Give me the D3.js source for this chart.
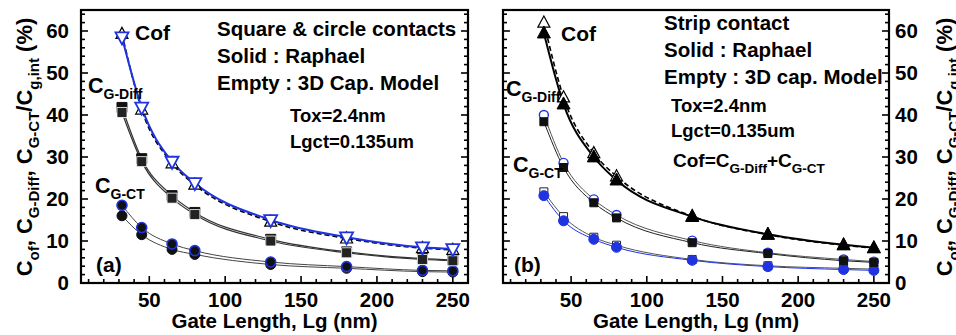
<!DOCTYPE html>
<html>
<head>
<meta charset="utf-8">
<script src="https://cdn.jsdelivr.net/npm/d3@7"></script>
<style>
  body { margin: 0; background: #fff; }
  svg { display: block; font-family: "Liberation Sans", Arial, sans-serif; font-weight: bold; }
</style>
</head>
<body>
<svg id="chart" width="956" height="335"></svg>
<script>
// gate length (nm)
var gateLength = [32, 45, 65, 80, 130, 180, 230, 250];

// panel (a): square & circle contacts
var cofRaphaelA   = [58.5, 41.8, 28.9, 23.8, 15.0, 10.9, 8.5, 8.1];
var cofModelA     = [59.3, 41.3, 28.5, 23.4, 14.6, 10.6, 8.3, 7.9];
var gDiffRaphaelA = [41.8, 29.6, 20.8, 16.8, 10.4, 7.4, 5.8, 5.5];
var gDiffModelA   = [40.6, 28.9, 20.2, 16.3, 10.0, 7.2, 5.6, 5.3];
var gCtModelA     = [18.5, 13.2, 9.3, 7.7, 5.0, 3.9, 3.0, 2.9];
var gCtRaphaelA   = [16.0, 11.5, 8.0, 6.8, 4.4, 3.5, 2.7, 2.6];

// panel (b): strip contact
var cofRaphaelB   = [59.5, 42.6, 30.0, 24.5, 15.8, 11.6, 9.1, 8.4];
var cofModelB     = [62.0, 44.2, 30.9, 25.4, 15.9, 11.5, 9.0, 8.3];
var gDiffModelB   = [40.0, 28.6, 19.9, 16.2, 10.1, 7.2, 5.6, 5.1];
var gDiffRaphaelB = [38.4, 27.5, 19.1, 15.5, 9.6, 7.0, 5.3, 4.9];
var gCtModelB     = [21.7, 15.8, 10.9, 9.0, 5.6, 4.1, 3.5, 3.3];
var gCtRaphaelB   = [20.8, 14.8, 10.4, 8.5, 5.4, 3.9, 3.2, 3.0];

var xTicks = [50, 100, 150, 200, 250];
var yTicks = [0, 10, 20, 30, 40, 50, 60];

var BLUE = '#1f33e0';

var svg = d3.select('#chart');

function markerPath( type, s ){
    var h = s / 2;
    if ( type === 'triUp' ){
        return 'M0,' + (-h * 1.1) + 'L' + h + ',' + (h * 0.75) + 'L' + (-h) + ',' + (h * 0.75) + 'Z';
    }
    if ( type === 'triDown' ){
        return 'M0,' + (h * 1.1) + 'L' + h + ',' + (-h * 0.75) + 'L' + (-h) + ',' + (-h * 0.75) + 'Z';
    }
    if ( type === 'square' ){
        return 'M' + (-h) + ',' + (-h) + 'h' + s + 'v' + s + 'h' + (-s) + 'Z';
    }
    return d3.symbol().type( d3.symbolCircle ).size( Math.PI * h * h )();
}

// text with subscripts: parts = [[text, isSub], ...]
function richText( g, parts, size, subSize ){
    var t = g.append('text').attr('font-size', size);
    var inSub = false;
    parts.forEach(function( p ){
        var ts = t.append('tspan').text( p[0] );
        if ( p[1] && !inSub ){
            ts.attr('font-size', subSize).attr('dy', size * 0.3);
            inSub = true;
        } else if ( !p[1] && inSub ){
            ts.attr('dy', -size * 0.3);
            inSub = false;
        }
    });
    return t;
}

function drawPanel( cfg ){
    var x = d3.scaleLinear().domain([5, 260]).range([cfg.left, cfg.right]),
        y = d3.scaleLinear().domain([0, 65]).range([283, 10]),
        g = svg.append('g'),
        line = d3.line()
            .x(function( d, i ){ return x( gateLength[i] ); })
            .y(function( d ){ return y( d ); })
            .curve( d3.curveMonotoneX );

    // minor ticks
    var xMinor = d3.range(10, 260, 10),
        yMinor = d3.range(2, 65, 2);

    g.selectAll('.xminor').data( xMinor ).enter().append('line')
        .attr('x1', function( d ){ return x( d ); })
        .attr('x2', function( d ){ return x( d ); })
        .attr('y1', 283).attr('y2', function( d ){ return d % 50 === 0 ? 276 : 279; })
        .attr('stroke', '#000').attr('stroke-width', 1.6);

    [cfg.left, cfg.right].forEach(function( ax, k ){
        var dir = k === 0 ? 1 : -1;
        g.selectAll('.yminor' + k).data( yMinor ).enter().append('line')
            .attr('x1', ax)
            .attr('x2', function( d ){ return ax + dir * ( d % 10 === 0 ? 7 : 4 ); })
            .attr('y1', function( d ){ return y( d ); })
            .attr('y2', function( d ){ return y( d ); })
            .attr('stroke', '#000').attr('stroke-width', 1.6);
    });

    g.append('rect')
        .attr('x', cfg.left).attr('y', 10)
        .attr('width', cfg.right - cfg.left).attr('height', 273)
        .attr('fill', 'none').attr('stroke', '#000').attr('stroke-width', 2.2);

    // tick labels
    g.selectAll('.xl').data( xTicks ).enter().append('text')
        .attr('x', function( d ){ return x( d ); })
        .attr('y', 307)
        .attr('text-anchor', 'middle')
        .attr('font-size', 20.5)
        .text(function( d ){ return d; });

    g.selectAll('.yl').data( yTicks ).enter().append('text')
        .attr('x', cfg.yLabelX)
        .attr('y', function( d ){ return y( d ) + 7; })
        .attr('text-anchor', cfg.yLabelAnchor)
        .attr('font-size', 20.5)
        .text(function( d ){ return d; });

    g.append('text')
        .attr('x', ( cfg.left + cfg.right ) / 2)
        .attr('y', 328)
        .attr('text-anchor', 'middle')
        .attr('font-size', 20.5)
        .text('Gate Length, Lg (nm)');

    // the right-hand title runs off the page edge, as in the source figure
    var title = richText( g.append('g').attr('transform', 'translate(' + cfg.titleX + ',147) rotate(-90)'),
        [['C', 0], ['of', 1], [', C', 0], ['G-Diff', 1], [', C', 0], ['G-CT', 1], ['/C', 0], ['g,int', 1], [' (%)', 0]],
        22, 15 );
    title.attr('text-anchor', 'middle');

    // series
    cfg.series.forEach(function( s ){
        g.append('path')
            .attr('d', line( s.values ))
            .attr('fill', 'none')
            .attr('stroke', s.lineColor)
            .attr('stroke-width', s.lineWidth)
            .attr('stroke-dasharray', s.dash || null);
    });
    cfg.series.forEach(function( s ){
        g.selectAll(null).data( s.values ).enter().append('path')
            .attr('transform', function( d, i ){ return 'translate(' + x( gateLength[i] ) + ',' + y( d ) + ')'; })
            .attr('d', markerPath( s.marker, s.size ))
            .attr('fill', s.fill)
            .attr('stroke', s.stroke)
            .attr('stroke-width', s.strokeWidth);
    });

    // annotations
    cfg.notes.forEach(function( n ){
        richText( g.append('g').attr('transform', 'translate(' + n.x + ',' + n.y + ')'), n.parts, n.size, n.sub );
    });
}

drawPanel({
    left : 81, right : 468,
    yLabelX : 69, yLabelAnchor : 'end',
    titleX : 32,
    series : [
        { values : gCtRaphaelA, lineColor : '#444', lineWidth : 1, marker : 'circle', size : 10, fill : '#111', stroke : '#111', strokeWidth : 1 },
        { values : gCtModelA, lineColor : '#444', lineWidth : 1, marker : 'circle', size : 10, fill : '#111', stroke : BLUE, strokeWidth : 1.6 },
        { values : gDiffRaphaelA, lineColor : '#333', lineWidth : 1.2, marker : 'square', size : 10, fill : '#111', stroke : '#111', strokeWidth : 1 },
        { values : gDiffModelA, lineColor : '#333', lineWidth : 1.2, marker : 'square', size : 10, fill : '#222', stroke : '#fff', strokeWidth : 0.8 },
        { values : cofModelA, lineColor : '#000', lineWidth : 1.6, dash : '5,3', marker : 'triUp', size : 12, fill : '#fff', stroke : '#000', strokeWidth : 1.2 },
        { values : cofRaphaelA, lineColor : BLUE, lineWidth : 2, marker : 'triDown', size : 13, fill : '#fff', stroke : BLUE, strokeWidth : 1.8 }
    ],
    notes : [
        { x : 135, y : 40, size : 21, sub : 14, parts : [['Cof', 0]] },
        { x : 217, y : 36, size : 20.5, sub : 13, parts : [['Square & circle contacts', 0]] },
        { x : 217, y : 63, size : 20.5, sub : 13, parts : [['Solid : Raphael', 0]] },
        { x : 217, y : 90, size : 20.5, sub : 13, parts : [['Empty : 3D Cap. Model', 0]] },
        { x : 290, y : 122, size : 18.5, sub : 12, parts : [['Tox=2.4nm', 0]] },
        { x : 290, y : 148, size : 18.5, sub : 12, parts : [['Lgct=0.135um', 0]] },
        { x : 88, y : 93, size : 21.5, sub : 14, parts : [['C', 0], ['G-Diff', 1]] },
        { x : 95, y : 193, size : 21.5, sub : 14, parts : [['C', 0], ['G-CT', 1]] },
        { x : 96, y : 272, size : 21, sub : 13, parts : [['(a)', 0]] }
    ]
});

drawPanel({
    left : 503, right : 889,
    yLabelX : 895, yLabelAnchor : 'start',
    titleX : 952,
    series : [
        { values : gCtModelB, lineColor : '#555', lineWidth : 1, marker : 'square', size : 8, fill : '#fff', stroke : '#222', strokeWidth : 1 },
        { values : gCtRaphaelB, lineColor : BLUE, lineWidth : 1, marker : 'circle', size : 10, fill : BLUE, stroke : BLUE, strokeWidth : 1 },
        { values : gDiffModelB, lineColor : '#555', lineWidth : 1, marker : 'circle', size : 9, fill : '#fff', stroke : BLUE, strokeWidth : 1.4 },
        { values : gDiffRaphaelB, lineColor : '#222', lineWidth : 1, marker : 'square', size : 8, fill : '#111', stroke : '#111', strokeWidth : 1 },
        { values : cofModelB, lineColor : '#000', lineWidth : 1.6, dash : '5,3', marker : 'triUp', size : 12, fill : '#fff', stroke : '#000', strokeWidth : 1.2 },
        { values : cofRaphaelB, lineColor : '#000', lineWidth : 2, marker : 'triUp', size : 13, fill : '#000', stroke : '#000', strokeWidth : 1 }
    ],
    notes : [
        { x : 561, y : 41, size : 21, sub : 14, parts : [['Cof', 0]] },
        { x : 664, y : 30, size : 20.5, sub : 13, parts : [['Strip contact', 0]] },
        { x : 664, y : 57, size : 20.5, sub : 13, parts : [['Solid : Raphael', 0]] },
        { x : 664, y : 84, size : 20.5, sub : 13, parts : [['Empty : 3D cap. Model', 0]] },
        { x : 671, y : 112, size : 18.5, sub : 12, parts : [['Tox=2.4nm', 0]] },
        { x : 671, y : 137, size : 18.5, sub : 12, parts : [['Lgct=0.135um', 0]] },
        { x : 673, y : 167, size : 19, sub : 13.5, parts : [['Cof=C', 0], ['G-Diff', 1], ['+C', 0], ['G-CT', 1]] },
        { x : 506, y : 96, size : 21.5, sub : 14, parts : [['C', 0], ['G-Diff', 1]] },
        { x : 513, y : 172, size : 21.5, sub : 14, parts : [['C', 0], ['G-CT', 1]] },
        { x : 514, y : 272, size : 21, sub : 13, parts : [['(b)', 0]] }
    ]
});
</script>
</body>
</html>
